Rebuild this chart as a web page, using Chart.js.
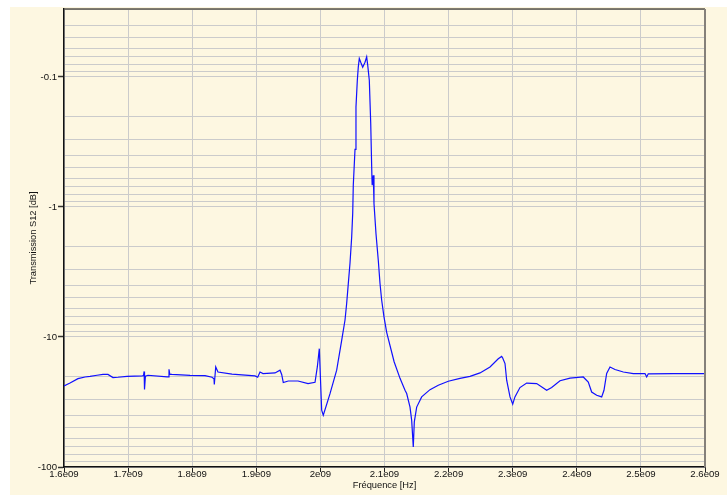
<!DOCTYPE html>
<html>
<head>
<meta charset="utf-8">
<title>Transmission S12</title>
<script src="https://cdn.jsdelivr.net/npm/chart.js@4.4.1/dist/chart.umd.min.js"></script>
<style>
    html, body { margin: 0; padding: 0; background: #ffffff; }
    #frame {
        position: absolute; left: 10px; top: 7px; right: 0; bottom: 0;
        background: #fdf7e1;
    }
    #chart-box { position: absolute; left: 0; top: 0; width: 727px; height: 495px; }
</style>
</head>
<body>
<div id="frame"></div>
<div id="chart-box"><canvas id="s12-chart" width="727" height="495"></canvas></div>
<script>
// Mesure S12 du filtre (fréquence en GHz, transmission en dB)
const freqGHz = [
    1.6000, 1.6094, 1.6218, 1.6328, 1.6406, 1.6515, 1.6608, 1.6686, 1.6764, 1.6842,
    1.6983, 1.7217, 1.7240, 1.7250, 1.7256, 1.7270, 1.7310, 1.7607, 1.7625, 1.7638,
    1.7650, 1.7685, 1.7966, 1.8200, 1.8309, 1.8340, 1.8345, 1.8367, 1.8402, 1.8621,
    1.8980, 1.9022, 1.9058, 1.9105, 1.9292, 1.9370, 1.9396, 1.9421, 1.9499, 1.9651,
    1.9807, 1.9916, 1.9952, 1.9983, 1.9994, 2.0020, 2.0045, 2.0150, 2.0254, 2.0332,
    2.0384, 2.0410, 2.0435, 2.0462, 2.0488, 2.0504, 2.0513, 2.0540, 2.0555, 2.0576,
    2.0591, 2.0607, 2.0629, 2.0660, 2.0696, 2.0722, 2.0738, 2.0763, 2.0785, 2.0800,
    2.0805, 2.0808, 2.0825, 2.0836, 2.0867, 2.0903, 2.0930, 2.0956, 2.0992, 2.1034,
    2.1150, 2.1242, 2.1320, 2.1346, 2.1398, 2.1424, 2.1449, 2.1465, 2.1502, 2.1580,
    2.1710, 2.1839, 2.1995, 2.2178, 2.2334, 2.2490, 2.2646, 2.2775, 2.2828, 2.2844,
    2.2880, 2.2906, 2.2958, 2.3000, 2.3035, 2.3113, 2.3218, 2.3374, 2.3530, 2.3608,
    2.3738, 2.3894, 2.4101, 2.4179, 2.4232, 2.4310, 2.4388, 2.4424, 2.4466, 2.4518,
    2.4596, 2.4726, 2.4882, 2.5064, 2.5090, 2.5115, 2.5506, 2.6000
];
const s12Db = [
    -23.8, -22.6, -20.9, -20.3, -20.1, -19.7, -19.4, -19.4, -20.5, -20.4,
    -20.1, -19.9, -19.8, -18.4, -25.3, -20.0, -19.7, -20.3, -20.3, -17.7,
    -19.3, -19.4, -19.7, -19.8, -20.4, -21.0, -23.2, -17.0, -18.6, -19.3,
    -19.9, -20.4, -18.6, -19.1, -18.9, -18.0, -19.4, -22.4, -21.8, -21.8,
    -22.8, -22.3, -17.0, -12.3, -17.0, -36.6, -40.0, -27.3, -18.0, -10.6,
    -7.4, -5.5, -3.9, -2.7, -1.70, -1.12, -0.68, -0.36, -0.170, -0.106,
    -0.084, -0.072, -0.077, -0.084, -0.077, -0.070, -0.081, -0.106, -0.227, -0.49,
    -0.62, -0.68, -0.57, -0.94, -1.60, -2.57, -3.88, -5.22, -7.0, -9.2,
    -15.5, -20.8, -25.7, -27.2, -34.6, -43.8, -70.0, -45.0, -34.6, -28.9,
    -25.4, -23.5, -21.9, -20.8, -20.1, -18.9, -17.0, -14.7, -14.1, -14.5,
    -16.0, -21.5, -28.9, -32.9, -28.9, -24.5, -22.6, -22.8, -25.7, -24.5,
    -21.7, -20.7, -20.3, -22.2, -26.5, -28.1, -28.9, -25.7, -19.1, -17.0,
    -17.8, -18.6, -19.1, -19.1, -20.3, -19.2, -19.1, -19.1
];

// Axe X : graduations en Hz
const xTickValues = [1.6e9, 1.7e9, 1.8e9, 1.9e9, 2.0e9, 2.1e9, 2.2e9, 2.3e9, 2.4e9, 2.5e9, 2.6e9];
const xTickLabels = ['1.6e09', '1.7e09', '1.8e09', '1.9e09', '2e09', '2.1e09', '2.2e09', '2.3e09', '2.4e09', '2.5e09', '2.6e09'];

// Axe Y : échelle log sur |S12|, étiquettes négatives
const yMajorValues = [0.1, 1, 10, 100];
const yMajorLabels = ['-0.1', '-1', '-10', '-100'];
const yMin = 0.03;
const yMax = 100;

// grille mineure 2..9 dans chaque décade
const yGridValues = [];
[0.01, 0.1, 1, 10].forEach(dec => {
    for (let k = 1; k <= 9; k++) {
        const v = parseFloat((k * dec).toPrecision(3));
        if (v >= yMin && v <= yMax) yGridValues.push(v);
    }
});
yGridValues.push(100);

const points = freqGHz.map((f, i) => ({ x: f * 1e9, y: -s12Db[i] }));

const isMajor = v => yMajorValues.some(m => Math.abs(m - v) < 1e-9);

// cadre haut et droit du tracé
const frameBorder = {
    id: 'frameBorder',
    afterDraw(chart) {
        const { ctx, chartArea: a } = chart;
        ctx.save();
        ctx.strokeStyle = '#57534a';
        ctx.lineWidth = 1.5;
        ctx.beginPath();
        ctx.moveTo(a.left, a.top);
        ctx.lineTo(a.right, a.top);
        ctx.stroke();
        ctx.strokeStyle = '#85817a';
        ctx.lineWidth = 2;
        ctx.beginPath();
        ctx.moveTo(a.right, a.top);
        ctx.lineTo(a.right, a.bottom);
        ctx.stroke();
        ctx.restore();
    }
};

Chart.defaults.font.family = '"Liberation Sans", Arial, sans-serif';
Chart.defaults.color = '#111111';

new Chart(document.getElementById('s12-chart'), {
    type: 'scatter',
    data: {
        datasets: [{
            label: 'S12',
            data: points,
            showLine: true,
            borderColor: '#1010ff',
            borderWidth: 1.2,
            pointRadius: 0,
            tension: 0
        }]
    },
    options: {
        responsive: false,
        animation: false,
        layout: { padding: { top: 9, right: 22, left: 0, bottom: 0 } },
        plugins: { legend: { display: false }, tooltip: { enabled: false } },
        scales: {
            x: {
                type: 'linear',
                min: 1.6e9,
                max: 2.6e9,
                afterBuildTicks: scale => { scale.ticks = xTickValues.map(v => ({ value: v })); },
                afterFit: scale => { scale.height = 28; },
                ticks: {
                    autoSkip: false,
                    maxRotation: 0,
                    padding: -3,
                    font: { size: 9.6 },
                    callback: (value, index) => xTickLabels[index]
                },
                grid: { color: '#cbcbcb', lineWidth: 1, tickLength: 5, tickColor: '#222', tickWidth: 1 },
                border: { color: '#111', width: 1.5 },
                title: { display: true, text: 'Fréquence [Hz]', font: { size: 9.3 }, padding: { top: 0, bottom: 4 } }
            },
            y: {
                type: 'logarithmic',
                reverse: true,
                min: yMin,
                max: yMax,
                afterBuildTicks: scale => { scale.ticks = yGridValues.map(v => ({ value: v, major: isMajor(v) })); },
                afterFit: scale => { scale.width = 64; },
                ticks: {
                    autoSkip: false,
                    padding: 1,
                    font: { size: 9.6 },
                    callback: value => {
                        const i = yMajorValues.findIndex(m => Math.abs(m - value) < 1e-9);
                        return i >= 0 ? yMajorLabels[i] : '';
                    }
                },
                grid: {
                    color: '#cbcbcb',
                    lineWidth: 1,
                    tickLength: 6,
                    tickWidth: 1.5,
                    tickColor: ctx => (ctx.tick && isMajor(ctx.tick.value)) ? '#333' : 'rgba(0,0,0,0)'
                },
                border: { color: '#111', width: 1.5 },
                title: { display: true, text: 'Transmission S12 [dB]', font: { size: 9.3 }, padding: { top: 28, bottom: 0 } }
            }
        }
    },
    plugins: [frameBorder]
});
</script>
</body>
</html>
